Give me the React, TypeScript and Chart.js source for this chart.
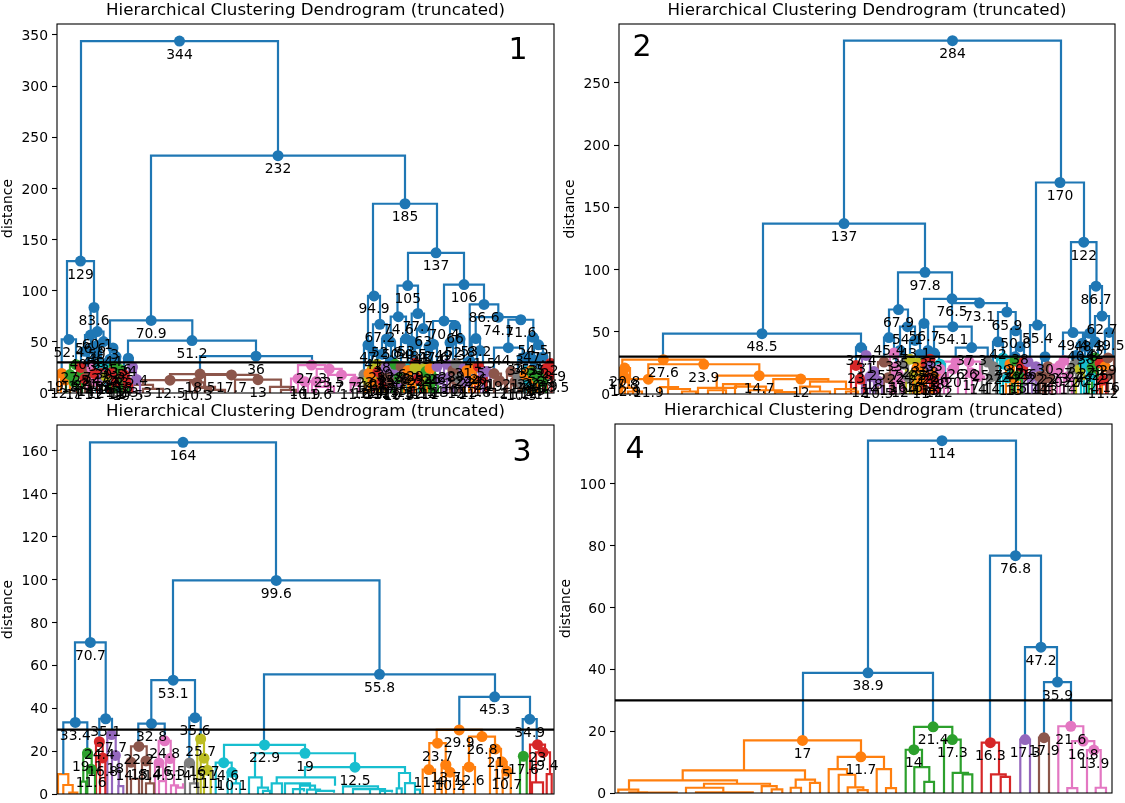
import React, { useEffect, useRef } from "react";
import { Chart, registerables } from "chart.js";

Chart.register(...registerables);

const palette = ["#1f77b4", "#ff7f0e", "#2ca02c", "#d62728", "#9467bd", "#8c564b", "#e377c2", "#7f7f7f", "#bcbd22", "#17becf"];
const titleText = "Hierarchical Clustering Dendrogram (truncated)";
const yLabel = "distance";
const cutHeight = 30;
const annotateAbove = 10;

// each link: left leaf position, left leg bottom, link height, right leaf position, right leg bottom, colour index
type Link = number[];

const links1: Link[] = [
  [81,129,344,278,232,0],[151,70.9,232,405,185,0],[373,94.9,185,437,137,0],[408,105,137,464,106,0],
  [67,52.4,129,94,83.6,0],[61.7,19.1,52.4,76,27.7,0],[90.7,56.6,83.6,97.3,60.1,0],
  [85,40.8,56.6,96,46,0],[91,43,60.1,103.5,50.3,0],[81,25,40.8,89,21,0],[92,24,46,100,27,0],[87,21,43,95,19,0],
  [97,39,50.3,110,33,0],[93,21,39,101,19,0],[104,17,33,116,24,0],[110,30.5,44,116,35.6,0],[106,16,30.5,114,26,0],[112,20,35.6,120,23,0],
  [110,44,70.9,192.3,51.2,0],[128,34,51.2,256,36,0],[124,18,34,132.7,25.4,0],[200,18.5,36,312,27.3,0],
  [57.7,0,19.1,65.7,12.7,1],[61,0,12.7,70,0,1],[70,18,27.7,82,20,2],[66,0,18,74,11,2],[70,0,11,78,0,2],[78,0,20,86,14,2],[82,0,14,90,0,2],
  [77,0,25,85,14,3],[81,0,14,89,0,3],[85,0,21,93,11,5],[89,0,11,97,0,5],[88,0,24,96,12,6],[92,0,12,100,0,6],[96,0,27,104,16,9],[100,0,16,108,0,9],
  [89,0,19,101,10.7,3],[97,0,19,105,10,3],[101,0,16,107,0,4],[106,0,24,114,13,9],[110,0,13,118,0,9],[102,0,16,110,0,8],[110,0,26,118,12,2],[114,0,12,122,0,2],
  [108,0,20,116,11,3],[112,0,11,120,0,3],[116,0,23,124,14,2],[120,0,14,128,0,2],[120,0,18,128,10.5,3],[124,0,10.5,132,0,3],[129,0,25.4,136,13.3,4],[133,0,13.3,140,0,4],
  [170,12.5,18.5,230,17.7,5],[143,8,12.5,197,10.3,5],[133,0,8,153,4,5],[143,0,4,163,0,5],[190,0,10.3,204,5,5],[197,0,5,211,0,5],
  [205,6,17.7,258,13,5],[195,0,6,215,3,5],[205,0,3,225,0,5],[235,0,13,281,6,5],[270,0,6,290,3,5],[281,0,3,296,0,5],
  [298,14,27.3,325,23.5,6],[291,0,14,305,10.9,6],[298,0,10.9,312,0,6],[316.7,11.6,23.5,341.7,17.7,6],[308,0,11.6,325,6,6],[316,0,6,334,0,6],[328,0,17.7,355,11.6,6],[350.7,0,11.6,359,0,6],
  [368,47,94.9,380,67.2,0],[364,18,47,372,22.8,0],[373,41,67.2,386.7,52.8,0],[369,19,41,377,28,0],[382,38,52.8,391,30.6,0],[378,21,38,386,22,0],[387,17,30.6,395,20,0],
  [397.5,74.6,105,418,77.7,0],[390.7,50,74.6,406,53,0],[411.7,50.5,77.7,424,63,0],[386,25,50,395,28,0],[401,26,53,411,27,0],[408,22,50.5,415,29,0],[417,48.2,63,429.3,45.4,0],[414,25,48.2,420,24,0],[426,21,45.4,432,26,0],
  [444,70.4,106,484,86.6,0],[433,47.6,70.4,455,66,0],[430,24,47.6,437,26,0],[450,49.3,66,460,52.8,0],[447,28,49.3,453,22,0],[456,29,52.8,464,24,0],
  [469.7,31.5,86.6,498.3,74.1,0],[467,22,31.5,472.7,24,0],[475.7,53.2,74.1,521,71.6,0],[471.7,26,53.2,480,41.5,0],[477,20,41.5,483,21,0],
  [508.3,44.3,71.6,533.3,54.5,0],[494,19,44.3,522.7,34.3,0],[518,17,34.3,527,21,0],[528,35.3,54.5,538,47.1,0],[525,18,35.3,531,22,0],[534,32.2,47.1,543,35.2,0],[531.5,20,32.2,536.5,15,0],[540,17,35.2,546,24,0],
  [360,0,18,368,12.4,7],[364,0,12.4,372,0,7],[368,12,22.8,376,14,8],[364,0,12,372,0,8],[371,0,14,380,0,8],[365,0,19,373,11,1],[369,0,11,377,0,1],[373,0,28,381,15,8],[377,0,15,385,0,8],
  [374,0,21,382,12,3],[378,0,12,386,0,3],[382,0,22,390,13,4],[386,0,13,394,0,4],[383,0,17,391,11,5],[387,0,11,395,0,5],[391,0,20,399,10.5,4],[395,0,10.5,403,0,4],
  [382,0,25,390,13.8,4],[392,0,28,398,15,2],[395,0,15,403,0,2],[397,0,26,405,13,5],[401,0,13,409,0,5],[407,0,27,415,12,9],[411,0,12,419,0,9],[404,0,22,412,11,1],[408,0,11,416,0,1],
  [412,0,29,418,14,3],[415,0,14,421,0,3],[410,0,25,420,11,8],[420,0,24,428,12,8],[424,0,12,432,0,8],[423,0,21,429,11,2],[426,0,11,434,0,2],[429,0,26,435,14,2],[432,0,14,438,0,2],
  [427,0,24,433,12,1],[434,0,26,440,13,4],[437,0,13,443,0,4],[444,0,28,450,16,4],[447,0,16,453,0,4],[450,0,22,456,12,5],[453,0,12,459,0,5],[453,0,29,459,14,7],[456,0,14,462,0,7],
  [461,0,24,467,11,4],[464,0,11,470,0,4],[464,0,22,470,10.5,1],[469,0,24,476,12.8,1],[472,0,12.8,479,0,1],[475,0,26,482,14,3],[478,0,14,486,0,3],[480,0,20,486,11,4],[483,0,21,490,11,4],
  [487,0,19,501,12,5],[494,0,12,505,0,5],[507,0,21,515,11.2,5],[511,0,11.2,519,0,5],[515,0,17,521,10.5,7],[518,0,10.5,525,0,7],[523,0,21,529,12,9],[526,0,12,532,0,9],
  [522,0,18,528,10.5,1],[528,0,22,534,14,1],[531,0,14,537,0,1],[529,0,20,535,11,2],[534,0,15,540,0,2],[537,0,17,543,11,2],[540,0,11,546,0,2],[543,0,24,549,19,3],[546,0,19,552,10,3],
  [547,0,28.9,554,18.5,3],[551.5,0,18.5,556,0,3],
];

const links2: Link[] = [
  [844,137,284,1061,170,0],[763,48.5,137,925,97.8,0],[663,27.6,48.5,861,37.4,0],[898,67.9,97.8,952,76.5,0],[889,45.4,67.9,908,54.1,0],
  [924,56.7,76.5,980,73.1,0],[952,54.1,73.1,1007,65.9,0],[934,33,54.1,971.7,37.3,0],[955.7,26,37.3,987.7,25.7,0],[998,42,65.9,1015.7,50.8,0],
  [1010.7,30,50.8,1020.7,38,0],[1030,28,55.4,1045,30,0],[1036,55.4,170,1084,122,0],[1071,49.4,122,1096.5,86.7,0],[1063,27,49.4,1083,40.8,0],
  [1090,48.8,86.7,1102,62.7,0],[1095,42,62.7,1109,49.5,0],[1085,30,48.8,1094,38,0],[1105,22,49.5,1113,29,0],[1077,23,40.8,1088,31,0],
  [856,23,37.4,866,31,0],[884,25.7,45.4,894,33,0],[900,35,54.1,915,43.1,0],[920,32,56.7,928,35,0],[896,22,35,904,24,0],[910,28,43.1,920,25,0],[917,21,32,923,22,0],[925,25,35,931,28,0],[929,22,33,939,24,0],
  [993,22,42,1003,29,0],[1012,24,30,1018,27,0],[1016,22,38,1024,26,0],
  [1042,14,30,1048,13,0],[1072,20,31,1080,24,0],[1082,24,38,1090,27,0],[1092,21,42,1098,29,0],
  [622.3,20.8,27.6,704.3,23.9,1],[619.5,17.8,20.8,630,12.9,1],[620,0,17.8,626,12.9,1],[622,0,12.9,629,5,1],[625,0,5,633,0,1],
  [648.3,11.9,23.9,759.3,14.7,1],[628.3,5,11.9,668.3,5.5,1],[620,0,5,636,2,1],[628,0,2,642,0,1],[660,0,5.5,678,4,1],[668,0,4,690,2,1],[682,0,2,696,0,1],
  [716.7,5,14.7,801.7,12,1],[698,0,5,736,8,1],[708,0,3,726,0,1],[723,0,8,750,6,1],[735,0,6,766,3,1],[750,0,3,780,1,1],
  [773.3,3,12,828.3,10,1],[765,0,3,782,1.5,1],[775,0,1.5,795,0,1],[810,6,10,846,4,1],[800,0,6,820,2,1],[810,0,2,830,0,1],[835,0,4,856,2,1],[846,0,2,858,0,1],
  [851,0,23,861,12,3],[856,0,12,864,0,3],[862,0,31,870,14,4],[866,0,14,874,0,4],[870,0,18,878,10.5,4],[874,0,10.5,882,0,4],[878,0,25.7,890,13,5],[884,0,13,892,0,5],
  [890,0,33,898,16,6],[894,0,16,902,0,6],[892,0,22,900,12,6],[896,0,12,904,0,6],[900,0,24,908,14,7],[904,0,14,912,0,7],[906,0,28,914,16,8],[910,0,16,918,0,8],
  [915,0,25,921,13,8],[918,0,13,925,0,8],[913,0,21,921,11,1],[917,0,11,925,0,1],[920,0,22,928,14,1],[924,0,14,932,0,1],[922,0,25,930,13,3],[926,0,13,934,0,3],
  [926,0,28,934,12,3],[930,0,12,938,0,3],[926,0,22,934,10.5,4],[935,0,24,945,10.8,9],[932,0,18,940,11,1],[936,0,20,944,12,6],[940,0,12,948,0,6],
  [944,0,26,968,20,6],[948,0,20,958,10.7,6],[958,0,26,980,17,6],[966,0,17,976,10.5,6],[972,0,14,984,11,6],[982,0,25.7,993,14,7],[987,0,14,996,0,7],[990,0,22,997,12,7],
  [997,0,29,1009,13,9],[1003,0,13,1012,0,9],[1000,0,24,1008,14,9],[1006,0,24,1014,13,1],[1010,0,13,1018,0,1],[1012,0,27,1018,15,2],[1015,0,15,1022,0,2],[1018,0,22,1025,11,3],
  [1021,0,26,1027,12,3],[1024,0,26,1032,14,4],[1028,0,14,1036,0,4],[1032,0,22,1040,12,4],[1036,0,14,1043,0,5],[1040,0,14,1046,10.3,5],[1046,0,13,1052,0,5],[1044,0,22,1052,12,5],
  [1050,0,20,1058,11,6],[1057,0,23,1063,13,6],[1060,0,27,1068,14,6],[1064,0,14,1072,0,6],[1068,0,20,1076,12,7],[1072,0,24,1078,13,7],[1076,0,20,1084,11,8],[1081,0,24,1087,12,9],
  [1084,0,27,1090,14,9],[1087,0,14,1094,0,9],[1089,0,21,1095,11,2],[1092,0,29,1098,13,2],[1097,0,25,1103,11.2,3],[1100,0,11.2,1106,0,3],[1102,0,22,1108,14,1],[1102,0,29,1114,16,5],[1108,0,16,1114,0,5],
];

const links3: Link[] = [
  [90,70.7,164,276,99.6,0],[75,33.4,70.7,105.7,35.1,0],[63.3,9.3,33.4,87.3,19.1,0],[99.3,24.4,35.1,112,27.7,0],
  [173,53.1,99.6,379.5,55.8,0],[151.3,32.8,53.1,195,35.6,0],[138.3,22.2,32.8,164.7,24.8,0],[189.3,14.5,35.6,200.7,25.7,0],
  [264,22.9,55.8,495,45.3,0],[459.3,29.9,45.3,530,34.9,0],[522.7,17.6,34.9,536.7,23,0],
  [58,0,9.3,68.3,4.2,1],[63.3,0,4.2,72.7,0.6,1],[69.3,0,0.6,77.3,0,1],
  [83.3,5.8,19.1,91.7,11.6,2],[80.7,0,5.8,86,0,2],[87.3,0,11.6,95,0,2],
  [96,0,24.4,102.7,16.8,3],[100,0,16.8,105.3,0,3],
  [107.3,0,27.7,115.7,18,4],[112,0,18,118.7,3.7,4],[118.3,0,3.7,123.3,0,4],
  [131,14.8,22.2,146.7,15.4,5],[127,0,14.8,135,7,5],[131,0,7,139,0,5],[142,0,15.4,150,5,5],[146,0,5,154,0,5],
  [158.7,14.5,24.8,170.7,16.5,6],[155,0,14.5,163,6,6],[159,0,6,166,0,6],[166,0,16.5,174,4,6],[171,0,4,178,3,6],[176,0,3,183,5,6],
  [185,0,14.5,194,5,7],[190,0,5,198,0,7],
  [197.3,0,25.7,204,16.7,8],[200.7,0,16.7,207.3,11.1,8],[204,0,11.1,210.7,0,8],
  [224,14.6,22.9,305,19,9],[215.7,0,14.6,231.7,10.1,9],[227.7,0,10.1,236,5,9],[231.7,0,5,240,0,9],
  [255,7.8,19,355,12.5,9],[249,0,7.8,261.7,3,9],[258,0,3,268,1.5,9],[263,0,1.5,270,0,9],
  [305,7.8,12.5,405,9.8,9],[276.7,5,7.8,335,3.9,9],[271.7,0,5,282,0,9],[285,0,5,310,2.3,9],[293,0,2.3,304,1.2,9],[300,0,3.9,315,2,9],[307,0,2,320,1,9],[316,0,1.5,334,0.6,9],
  [343,0,3.6,378,2.3,9],[353,0,2.3,385,1.5,9],[370,0,2.3,385,0,9],[380,0,1.5,392,0.7,9],
  [396.7,0,2.6,401.7,0,9],[399,2.6,9.8,410,5.1,9],[405,0,5.1,415,2,9],[415,0,2,420,0,9],
  [436.7,23.7,29.9,481.7,26.8,1],[429.3,11.4,23.7,445.7,13.7,1],[422.7,0,11.4,435,0,1],[441.7,0,13.7,450,10.2,1],[446,0,10.2,454,0,1],
  [469,12.6,26.8,495,21,1],[463.3,0,12.6,475,0,1],[490,0,21,501,15,1],[496.7,0,15,506.7,10.7,1],[502.7,0,10.7,510.7,0,1],
  [520,0,17.6,526.7,0,2],[530,0,23,545,19.4,3],[536,5.4,19.4,550,9.3,3],[532,0,5.4,543,0,3],[546.7,0,9.3,551.7,0,3],
];

const links4: Link[] = [
  [868,38.9,114,1016,76.8,0],[803,17,38.9,933,21.4,0],[990,16.3,76.8,1041,47.2,0],[1025,17.3,47.2,1057,35.9,0],[1044,17.9,35.9,1071,21.6,0],
  [744,7.3,17,861,11.7,1],[682.7,4.1,7.3,805,4.3,1],[629,1.1,4.1,737,3,1],[618.3,0,1.1,638.3,0.2,1],[629.3,0,0.2,647,0.1,1],[647,0,0.1,676.7,0,1],
  [704,1.7,3,770,2.2,1],[686,0,1.7,723.3,0.2,1],[696,0,0.2,752.7,0,1],[761.7,0,2.2,776.7,1.2,1],[771.7,0,1.2,782.3,0,1],
  [795.7,1.7,4.3,815,3.3,1],[790.7,0,1.7,801,0,1],[810,0,3.3,820,0,1],
  [837.7,7.7,11.7,884,7.7,1],[828.7,0,7.7,847,5.9,1],[838.7,0,5.9,855.3,1.8,1],[847.7,0,1.8,863.3,0.9,1],[857.7,0,0.9,867.7,0,1],
  [876.7,0,7.7,891,1.6,1],[886,0,1.6,896,0,1],
  [914,14,21.4,952.3,17.3,2],[905.7,0,14,922,8.4,2],[914.3,0,8.4,929.3,3.6,2],[924.3,0,3.6,934,0,2],[944,0,17.3,960.7,6.5,2],[952.7,0,6.5,968,6,2],[962.7,0,6,972.3,0,2],
  [981.7,0,16.3,999,6,3],[991,0,6,1005.7,5.2,3],[1000.7,0,5.2,1010,0,3],
  [1020.3,0,17.3,1030,0,4],[1039,0,17.9,1049,0,5],
  [1058.3,0,21.6,1083.3,16.8,6],[1072,1.6,16.8,1094.3,13.9,6],[1067.3,0,1.6,1077.3,0,6],[1087,0,13.9,1100.7,1.7,6],[1095.7,0,1.7,1106,0,6],
];

const ticks1 = [0, 50, 100, 150, 200, 250, 300, 350];
const ticks2 = [0, 50, 100, 150, 200, 250];
const ticks3 = [0, 20, 40, 60, 80, 100, 120, 140, 160];
const ticks4 = [0, 20, 40, 60, 80, 100];

const panels = [
  { name: "1", links: links1, ticks: ticks1, yMax: 360.7, left: 57, right: 554, top: 24, bottom: 393, axisLeft: 0, tagX: 518, tagY: 51 },
  { name: "2", links: links2, ticks: ticks2, yMax: 297.4, left: 619, right: 1115, top: 24, bottom: 394, axisLeft: 562, tagX: 642, tagY: 48 },
  { name: "3", links: links3, ticks: ticks3, yMax: 172.1, left: 57, right: 554, top: 425, bottom: 794, axisLeft: 0, tagX: 522, tagY: 453 },
  { name: "4", links: links4, ticks: ticks4, yMax: 119.4, left: 615, right: 1112, top: 424, bottom: 793, axisLeft: 558, tagX: 635, tagY: 450 },
];

const fontFamily = "'DejaVu Sans'";

function makeConfig(p: (typeof panels)[number]): any {
  const rows = p.links;
  const lineSets = palette.map((color, i) => {
    const pts: any[] = [];
    rows.filter((l) => l[5] === i).forEach(([a, b, c, d, e]) => {
      pts.push({ x: a, y: b }, { x: a, y: c }, { x: d, y: c }, { x: d, y: e }, { x: d, y: null });
    });
    return { type: "scatter", data: pts, showLine: true, spanGaps: false, borderColor: color, borderWidth: 2.2, pointRadius: 0, order: 3 };
  });
  const nodes = rows.filter((l) => l[2] > annotateAbove);
  const dots = {
    type: "scatter",
    data: nodes.map((l) => ({ x: (l[0] + l[3]) / 2, y: l[2] })),
    pointRadius: 5.5,
    pointBorderWidth: 0,
    pointBackgroundColor: nodes.map((l) => palette[l[5]]),
    order: 2,
  };
  const cut = {
    type: "scatter",
    data: [{ x: p.left, y: cutHeight }, { x: p.right, y: cutHeight }],
    showLine: true,
    borderColor: "#000",
    borderWidth: 2.2,
    pointRadius: 0,
    order: 1,
  };
  const overlay = {
    id: "overlay",
    afterDatasetsDraw(chart: any) {
      const { ctx, chartArea: a, scales } = chart;
      ctx.save();
      ctx.strokeStyle = "#000";
      ctx.lineWidth = 1.1;
      ctx.strokeRect(a.left, a.top, a.right - a.left, a.bottom - a.top);
      ctx.fillStyle = "#000";
      ctx.textAlign = "center";
      ctx.textBaseline = "top";
      ctx.font = `13.9px ${fontFamily}`;
      nodes.forEach((l) => {
        const v = Number(l[2].toPrecision(3)).toString();
        ctx.fillText(v, scales.x.getPixelForValue((l[0] + l[3]) / 2), scales.y.getPixelForValue(l[2]) + 7);
      });
      ctx.textBaseline = "bottom";
      ctx.font = `16.67px ${fontFamily}`;
      ctx.fillText(titleText, (a.left + a.right) / 2, a.top - 5);
      ctx.textBaseline = "middle";
      ctx.font = `30px ${fontFamily}`;
      ctx.fillText(p.name, p.tagX, p.tagY);
      ctx.restore();
    },
  };
  return {
    type: "scatter",
    data: { datasets: [...lineSets, dots, cut] },
    plugins: [overlay],
    options: {
      animation: false,
      responsive: false,
      devicePixelRatio: 1,
      events: [],
      layout: { padding: { left: p.axisLeft, right: 1125 - p.right, top: p.top, bottom: 803 - p.bottom } },
      plugins: { legend: { display: false }, tooltip: { enabled: false }, title: { display: false } },
      scales: {
        x: { type: "linear", display: false, min: p.left, max: p.right },
        y: {
          type: "linear",
          min: 0,
          max: p.yMax,
          afterBuildTicks: (s: any) => { s.ticks = p.ticks.map((value) => ({ value })); },
          afterFit: (s: any) => {
            s.width = p.left - p.axisLeft;
            s.paddingTop = 0;
            s.paddingBottom = 0;
            s.paddingLeft = 0;
            s.paddingRight = 0;
          },
          border: { display: false },
          grid: { drawOnChartArea: false, drawTicks: true, tickLength: 5, tickColor: "#000", tickWidth: 1.1 },
          ticks: { color: "#000", padding: 4, labelOffset: 1.5, font: { family: "DejaVu Sans", size: 13.9 } },
          title: { display: true, text: yLabel, color: "#000", padding: 0, font: { family: "DejaVu Sans", size: 13.9 } },
        },
      },
    },
  };
}

function Panel({ p }: { p: (typeof panels)[number] }) {
  const ref = useRef<HTMLCanvasElement>(null);
  useEffect(() => {
    const chart = new Chart(ref.current as HTMLCanvasElement, makeConfig(p));
    return () => chart.destroy();
  }, [p]);
  return <canvas ref={ref} width={1125} height={803} style={{ position: "absolute", left: 0, top: 0, width: 1125, height: 803 }} />;
}

export default function App() {
  return (
    <div style={{ position: "fixed", left: 0, top: 0, width: 1125, height: 803, background: "#fff", overflow: "hidden" }}>
      {panels.map((p) => <Panel key={p.name} p={p} />)}
    </div>
  );
}
